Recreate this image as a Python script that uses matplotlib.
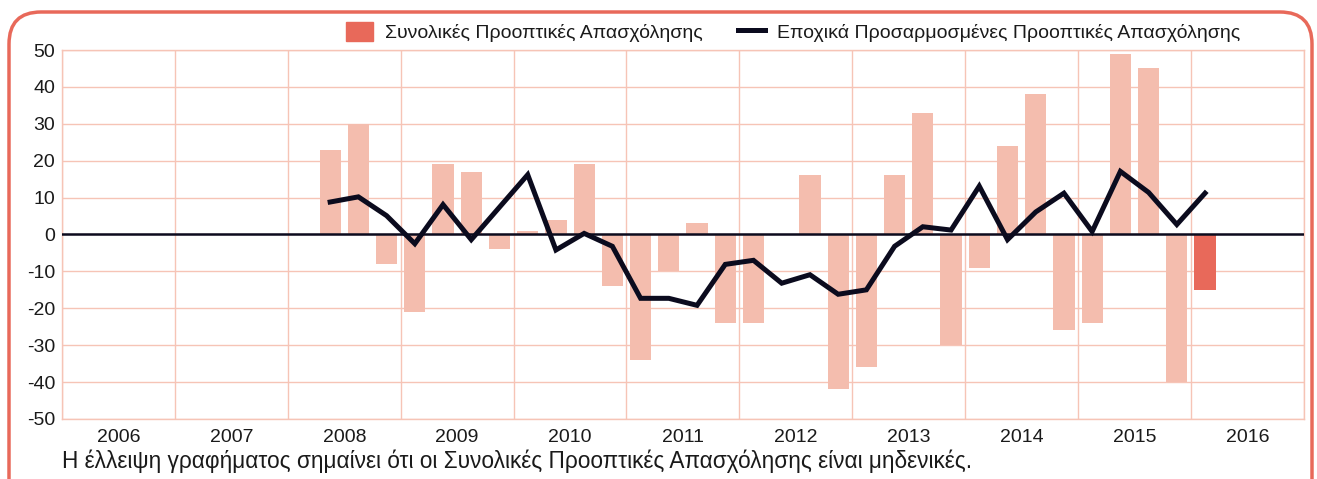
import numpy as np
import matplotlib.pyplot as plt
from matplotlib.patches import FancyBboxPatch, Patch
from matplotlib.lines import Line2D
from matplotlib.transforms import IdentityTransform

plt.rcParams['font.family'] = ['Liberation Sans', 'DejaVu Sans']

# τρίμηνα (έτος, τρίμηνο)
quarters = [(2008, 2), (2008, 3), (2008, 4),
            (2009, 1), (2009, 2), (2009, 3), (2009, 4),
            (2010, 1), (2010, 2), (2010, 3), (2010, 4),
            (2011, 1), (2011, 2), (2011, 3), (2011, 4),
            (2012, 1), (2012, 2), (2012, 3), (2012, 4),
            (2013, 1), (2013, 2), (2013, 3), (2013, 4),
            (2014, 1), (2014, 2), (2014, 3), (2014, 4),
            (2015, 1), (2015, 2), (2015, 3), (2015, 4),
            (2016, 1)]

# Συνολικές Προοπτικές Απασχόλησης
total = [23, 30, -8,
         -21, 19, 17, -4,
         1, 4, 19, -14,
         -34, -10, 3, -24,
         -24, 0, 16, -42,
         -36, 16, 33, -30,
         -9, 24, 38, -26,
         -24, 49, 45, -40,
         -15]

# Εποχικά Προσαρμοσμένες
adjusted = [8.8, 10.2, 5.1,
            -2.5, 8.1, -1.4, 7.4,
            16.2, -4.2, 0.3, -3.2,
            -17.3, -17.3, -19.2, -8.1,
            -7.0, -13.2, -10.9, -16.2,
            -15.0, -3.2, 2.1, 1.2,
            13.1, -1.4, 6.1, 11.2,
            0.8, 17.1, 11.4, 2.7,
            11.2]

years = list(range(2006, 2017))
yticks = list(range(-50, 51, 10))

grid_c = '#F6C4B6'
bar_c = '#F4BDAE'
hi_c = '#E8695A'
line_c = '#0B0B1E'
txt_c = '#1a1a1a'

x = np.array([y + (q - 0.5) / 4 for y, q in quarters])
colors = [bar_c] * (len(total) - 1) + [hi_c]

fig = plt.figure(figsize=(13.17, 4.79), dpi=100)
ax = fig.add_axes([0.0471, 0.1253, 0.9429, 0.7703])

ax.bar(x, total, width=0.1875, color=colors, zorder=2)
ax.axhline(0, color=line_c, lw=1.8, zorder=3)
ax.plot(x, adjusted, color=line_c, lw=3.6, zorder=4, solid_joinstyle='miter')

ax.set_xlim(2006, 2017)
ax.set_ylim(-50, 50)
ax.set_yticks(yticks)
ax.set_yticklabels([str(v) for v in yticks])  # απλό ενωτικό, όχι μείον
ax.set_xticks(range(2006, 2018), minor=False)
ax.set_xticklabels([])
ax.set_xticks([y + 0.5 for y in years], minor=True)
ax.set_xticklabels([str(y) for y in years], minor=True)
ax.tick_params(axis='x', which='both', length=0, pad=7, labelsize=14, colors=txt_c)
ax.tick_params(axis='y', length=0, pad=5, labelsize=14, colors=txt_c)
ax.grid(True, which='major', color=grid_c, lw=1, zorder=0)
for s in ax.spines.values():
    s.set_color(grid_c)
    s.set_linewidth(1)

handles = [Patch(color=hi_c), Line2D([], [], color=line_c, lw=3.6)]
labels = ['Συνολικές Προοπτικές Απασχόλησης',
          'Εποχικά Προσαρμοσμένες Προοπτικές Απασχόλησης']
ax.legend(handles, labels, loc='lower right', bbox_to_anchor=(0.958, 0.99),
          ncol=2, frameon=False, fontsize=14, handlelength=1.4, handleheight=1.2,
          columnspacing=1.8, handletextpad=0.6, borderaxespad=0.2, labelcolor=txt_c)

fig.text(0.0471, 0.022, 'Η έλλειψη γραφήματος σημαίνει ότι οι Συνολικές Προοπτικές Απασχόλησης είναι μηδενικές.',
         fontsize=16.3, color=txt_c, ha='left', va='baseline')

frame = FancyBboxPatch((9, -60), 1303, 527, boxstyle='round,pad=0,rounding_size=32',
                       transform=IdentityTransform(), fill=False, ec=hi_c, lw=2.5,
                       clip_on=False)
fig.add_artist(frame)

fig.savefig('out.png', dpi=100)
